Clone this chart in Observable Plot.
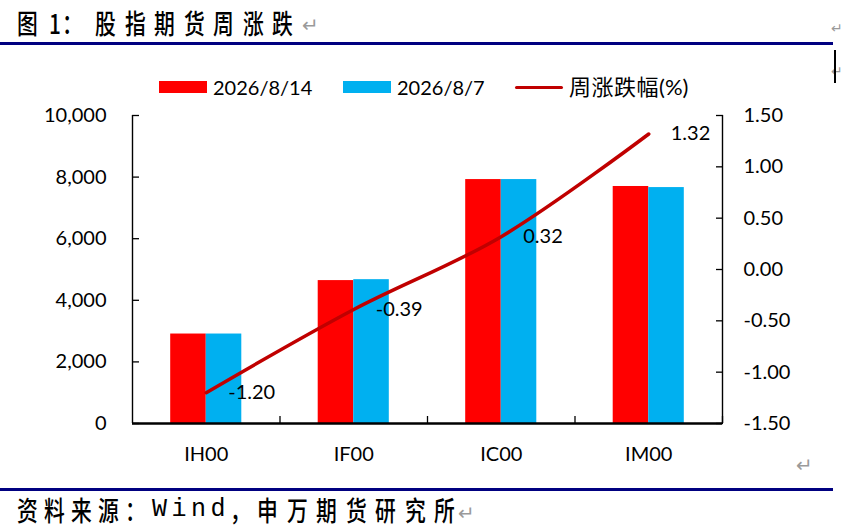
<!DOCTYPE html>
<html>
<head>
<meta charset="utf-8">
<script src="https://cdn.jsdelivr.net/npm/d3@7"></script>
<script src="https://cdn.jsdelivr.net/npm/@observablehq/plot@0.6"></script>
<style>
  body { margin: 0; background: #fff; }
  #page { position: relative; width: 845px; height: 530px; overflow: hidden; background: #fff; }
  .abs { position: absolute; white-space: nowrap; }
  .cjk { font-family: "Noto Sans CJK SC", sans-serif; font-size: 27px; line-height: 27px; color: #000; font-weight: 500;
         transform: scaleX(0.77); transform-origin: 0 0; }
  .mono { font-family: "Liberation Mono", monospace; font-size: 25px; line-height: 27px; color:#000; }
  .ret { font-family: "DejaVu Sans", sans-serif; font-size: 20px; color: #9a9a9a; line-height: 20px; }
  .rule { position: absolute; background: #000080; height: 3px; }
  .legend { position: absolute; top: 75px; font-family: Lato, "Noto Sans CJK SC", sans-serif; font-size: 20px; line-height: 24px; color: #000; }
  .sw { position: absolute; }
  #chart { position: absolute; left: 0; top: 100px; }
</style>
</head>
<body>
<div id="page">
  <div id="texts"></div>
  <div class="abs ret" style="left:302px;top:15px;">↵</div>
  <div class="abs ret" style="left:831px;top:18px;font-size:14px;">↵</div>
  <div class="rule" style="left:0;top:42px;width:833px;"></div>
  <div class="abs ret" style="left:831px;top:61px;font-size:14px;">↵</div>
  <div class="abs" style="left:834px;top:50px;width:1.5px;height:33px;background:#000;"></div>

  <div id="legend"></div>

  <div id="chart"></div>
  <div class="abs ret" style="left:796px;top:455px;">↵</div>

  <div class="rule" style="left:0;top:488px;width:833px;"></div>
  <div class="abs ret" style="left:458px;top:503px;">↵</div>
</div>
<script>
// ---------- data ----------
const categories   = ["IH00", "IF00", "IC00", "IM00"];
const price0814    = [2905, 4640, 7920, 7695];
const price0807    = [2905, 4670, 7920, 7660];
const weeklyPct    = [-1.20, -0.39, 0.32, 1.32];
const seriesNames  = ["2026/8/14", "2026/8/7", "周涨跌幅", "(%)"];
const seriesColors = ["#FF0000", "#00B0F0", "#C00000"];
const leftTicks    = [0, 2000, 4000, 6000, 8000, 10000];
const rightTicks   = [-1.5, -1.0, -0.5, 0, 0.5, 1.0, 1.5];
const titleParts   = ["图", "1", "：", "股指期货周涨跌"];
const sourceParts  = ["资料来源：", "Wind", "，", "申万期货研究所"];

// ---------- header / footer text, one box per character ----------
const texts = document.getElementById("texts");
function run(str, left, top, pitch, cls) {
  Array.from(str).forEach((ch, k) => {
    const d = document.createElement("div");
    d.className = "abs " + cls;
    d.style.left = (left + k * pitch) + "px";
    d.style.top = top + "px";
    d.textContent = ch;
    texts.appendChild(d);
  });
}
run(titleParts[0], 17, 9, 28.5, "cjk");
run(titleParts[1], 49, 9, 14, "cjk");
run(titleParts[2], 62, 9, 28.5, "cjk");
run(titleParts[3], 95, 9, 29.5, "cjk");
run(sourceParts[0], 17, 496, 27, "cjk");
run(sourceParts[1], 152, 496, 19.5, "mono");
run(sourceParts[2], 230, 496, 27, "cjk");
run(sourceParts[3], 257, 496, 29.5, "cjk");

// ---------- legend ----------
const legend = document.getElementById("legend");
const legendItems = [
  {swLeft: 159, txtLeft: 213, type: "bar"},
  {swLeft: 343, txtLeft: 397, type: "bar"},
  {swLeft: 515, txtLeft: 569, type: "line"}
];
legendItems.forEach((it, i) => {
  const sw = document.createElement("div");
  sw.className = "sw";
  if (it.type === "bar") {
    Object.assign(sw.style, {left: it.swLeft + "px", top: "81px", width: "48px", height: "12px", background: seriesColors[i]});
  } else {
    Object.assign(sw.style, {left: it.swLeft + "px", top: "85.5px", width: "48px", height: "3.5px", background: seriesColors[i], borderRadius: "2px"});
  }
  legend.appendChild(sw);
  const t = document.createElement("div");
  t.className = "legend";
  t.style.left = it.txtLeft + "px";
  if (it.type === "line") {
    const a = document.createElement("span");
    a.textContent = seriesNames[2];
    a.style.fontFamily = "'Noto Sans CJK SC', sans-serif";
    a.style.fontSize = "22px";
    a.style.letterSpacing = "0.5px";
    const b = document.createElement("span");
    b.textContent = seriesNames[3];
    b.style.fontSize = "22px";
    t.appendChild(a); t.appendChild(b);
    t.style.top = "73px";
  } else {
    t.textContent = seriesNames[i];
  }
  legend.appendChild(t);
});

// ---------- chart ----------
const pctToY = d3.scaleLinear([rightTicks[0], rightTicks[rightTicks.length - 1]], [leftTicks[0], leftTicks[leftTicks.length - 1]]);
const rows = categories.map((c, i) => ({c, i, a: price0814[i], b: price0807[i], p: weeklyPct[i]}));
const halfBar = 0.241;
const fmtPct = v => (Math.round(v * 100) / 100 + 0).toFixed(2);

const chart = Plot.plot({
  width: 845,
  height: 370,
  marginLeft: 132,
  marginRight: 123,
  marginTop: 15,
  marginBottom: 47,
  x: {domain: [0, categories.length], axis: null},
  y: {domain: [leftTicks[0], leftTicks[leftTicks.length - 1]], axis: null},
  style: {fontFamily: "Lato, 'Noto Sans CJK SC', sans-serif", fontSize: "20px", color: "#000", background: "transparent", overflow: "visible"},
  marks: [
    Plot.rect(rows, {x1: d => d.i + 0.5 - halfBar, x2: d => d.i + 0.5, y1: 0, y2: "a", fill: seriesColors[0]}),
    Plot.rect(rows, {x1: d => d.i + 0.5, x2: d => d.i + 0.5 + halfBar, y1: 0, y2: "b", fill: seriesColors[1]}),
    Plot.ruleX([0, categories.length], {stroke: "#000", strokeWidth: 1.4}),
    Plot.ruleY([0], {stroke: "#000", strokeWidth: 2.3}),
    Plot.axisY(leftTicks, {anchor: "left", tickSize: 0, tickPadding: 26, tickFormat: d3.format(","), fontSize: 20}),
    Plot.axisY(leftTicks, {anchor: "left", tickSize: -7, tickFormat: () => "", strokeWidth: 1.3}),
    Plot.axisY(rightTicks.map(pctToY), {anchor: "right", tickSize: 0, tickPadding: 21, tickFormat: d => fmtPct(pctToY.invert(d)), fontSize: 20}),
    Plot.axisY(rightTicks.map(pctToY), {anchor: "right", tickSize: -7, tickFormat: () => "", strokeWidth: 1.3}),
    Plot.axisX(categories.map((c, i) => i + 0.5), {anchor: "bottom", tickSize: 0, tickPadding: 23, tickFormat: d => categories[Math.round(d - 0.5)], fontSize: 20}),
    Plot.axisX(d3.range(1, categories.length + 1), {anchor: "bottom", tickSize: -7, tickFormat: () => "", strokeWidth: 1.3}),
    Plot.line(rows, {x: d => d.i + 0.5, y: d => pctToY(d.p), stroke: seriesColors[2], strokeWidth: 3.5, curve: "catmull-rom"}),
    Plot.text(rows, {x: d => d.i + 0.5, y: d => pctToY(d.p), text: d => d.p.toFixed(2), dx: 22, textAnchor: "start", fontSize: 20, fill: "#000"})
  ]
});
document.getElementById("chart").appendChild(chart);
</script>
</body>
</html>
